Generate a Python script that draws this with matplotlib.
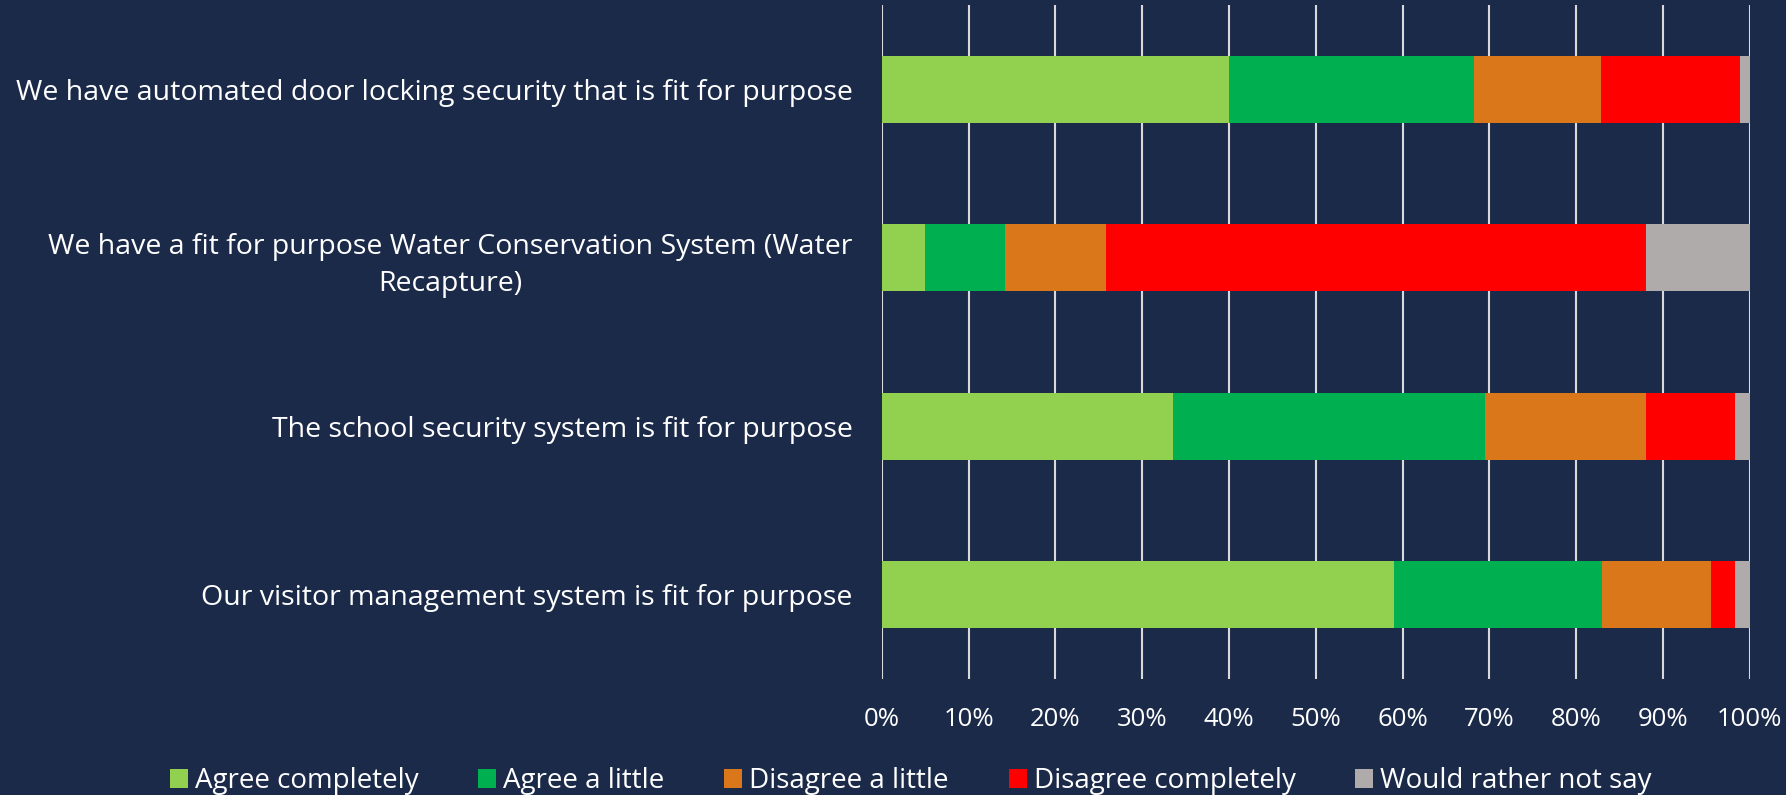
"""
Stacked horizontal bar chart of survey responses on school building systems.
Output: out.png
"""

import matplotlib.pyplot as plt
from matplotlib.ticker import PercentFormatter


# ============================ Data ============================
STATEMENTS = [
    'We have automated door locking security that is fit for purpose',
    'We have a fit for purpose Water Conservation System (Water\nRecapture)',
    'The school security system is fit for purpose',
    'Our visitor management system is fit for purpose',
]

RESPONSES = ['Agree completely', 'Agree a little', 'Disagree a little',
             'Disagree completely', 'Would rather not say']

agree_completely = [40.0, 5.0, 33.6, 59.0]
agree_a_little = [28.2, 9.2, 35.9, 24.0]
disagree_a_little = [14.7, 11.6, 18.5, 12.5]
disagree_completely = [16.0, 62.2, 10.3, 2.8]
rather_not_say = [1.1, 12.0, 1.7, 1.7]

COLORS = ['#92D050', '#00B050', '#DB771B', '#FF0000', '#AFABAB']

# ============================ Style ============================
BG = '#1C2A4A'
FG = 'white'
GRID = '#D9D9D9'
FONT = ['Open Sans', 'DejaVu Sans']


def main():
    plt.rcParams['font.family'] = FONT

    fig = plt.figure(figsize=(17.86, 7.95), dpi=100, facecolor=BG)
    ax = fig.add_axes([0.4937, 0.1459, 0.486, 0.8478])
    ax.set_facecolor(BG)

    series = [agree_completely, agree_a_little, disagree_a_little,
              disagree_completely, rather_not_say]
    y = list(range(len(STATEMENTS)))
    left = [0.0] * len(STATEMENTS)
    for name, vals, color in zip(RESPONSES, series, COLORS):
        ax.barh(y, vals, left=left, height=0.4, color=color, label=name, zorder=3)
        left = [a + b for a, b in zip(left, vals)]

    ax.set_xlim(0, 100)
    ax.set_ylim(len(STATEMENTS) - 0.5, -0.5)
    ax.set_xticks(range(0, 101, 10))
    ax.xaxis.set_major_formatter(PercentFormatter(decimals=0))
    ax.set_yticks(y)
    ax.set_yticklabels(STATEMENTS, fontsize=20.5, color=FG, multialignment='center',
                       linespacing=1.4)

    ax.grid(axis='x', color=GRID, linewidth=1.5, zorder=0)
    ax.tick_params(axis='x', length=0, pad=20, labelsize=18.5, labelcolor=FG)
    ax.tick_params(axis='y', length=0, pad=21)
    for spine in ax.spines.values():
        spine.set_visible(False)

    fig.legend(loc='center', bbox_to_anchor=(0.51, 0.017), ncol=5, frameon=False,
               fontsize=20, labelcolor=FG, handlelength=0.65, handleheight=0.65,
               handletextpad=0.25, columnspacing=2.15)

    fig.savefig('out.png', dpi=100, facecolor=BG)
    plt.close(fig)


if __name__ == '__main__':
    main()
